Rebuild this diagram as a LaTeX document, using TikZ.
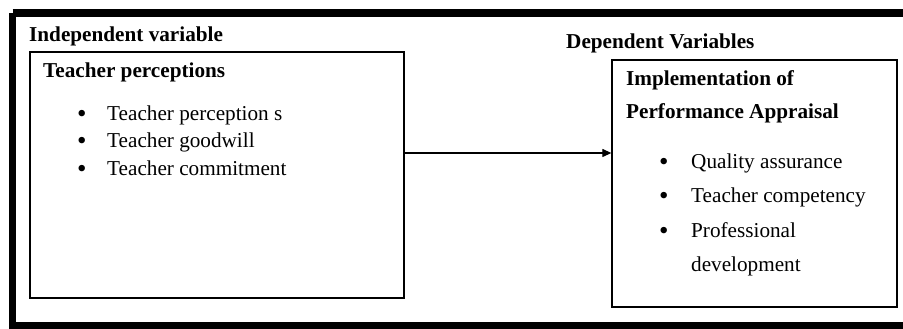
\documentclass[tikz,border=0pt]{standalone}
\usepackage{fontspec}
\setmainfont{Liberation Serif}
\usetikzlibrary{arrows.meta}
\begin{document}
\begin{tikzpicture}[x=1pt,y=1pt,
  txt/.style={anchor=base west,inner sep=0pt,font=\fontsize{21.2}{24}\selectfont},
  hd/.style={txt,font=\fontsize{21.2}{24}\selectfont\bfseries},
  bul/.style={anchor=base west,inner sep=0pt,font=\fontsize{27}{28}\selectfont},
  varbox/.style={draw=black,line width=1.3pt,rectangle,inner sep=0pt},
  conn/.style={line width=1.2pt,-{Triangle[length=9pt,width=8pt]}}]
\useasboundingbox (0,0) rectangle (903,329);
\begin{scope}
\clip (0,0) rectangle (903,329);
\draw[line width=7.5pt] (12.5,316) -- (12.5,3.5) -- (915,3.5);
\draw[line width=7.5pt] (12.5,316) -- (915,316);
\end{scope}
% boxes
\node[varbox,minimum width=374pt,minimum height=246pt] (iv) at (217,154) {};
\node[varbox,minimum width=285pt,minimum height=247pt] (dv) at (754.5,145.5) {};
% headings
\node[hd] (ivh) at (29,287) {Independent variable};
\node[hd] (dvh) at (566,280) {Dependent Variables};
\node[hd] (ivt) at (43,251) {Teacher perceptions};
\node[hd] (dvt1) at (626,243) {Implementation of};
\node[hd] (dvt2) at (626,210) {Performance Appraisal};
% left bullets
\node[bul] (lb1) at (77,206) {•};
\node[txt] (l1) at (107,208) {Teacher perception s};
\node[bul] (lb2) at (77,179) {•};
\node[txt] (l2) at (107,181) {Teacher goodwill};
\node[bul] (lb3) at (77,151) {•};
\node[txt] (l3) at (107,153) {Teacher commitment};
% right bullets
\node[bul] (rb1) at (659,158) {•};
\node[txt] (r1) at (691,160) {Quality assurance};
\node[bul] (rb2) at (659,124) {•};
\node[txt] (r2) at (691,126) {Teacher competency};
\node[bul] (rb3) at (659,89) {•};
\node[txt] (r3) at (691,91) {Professional};
\node[txt] (r4) at (691,57) {development};
% connector
\coordinate (ay) at (0,176);
\draw[conn] (iv.east |- ay) -- (dv.west |- ay);
\end{tikzpicture}
\end{document}
